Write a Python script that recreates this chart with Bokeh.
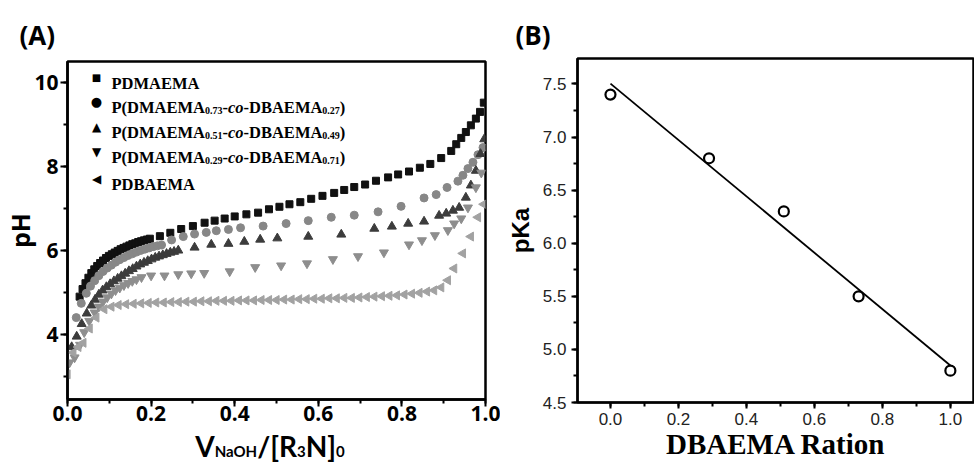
import numpy as np
from bokeh.plotting import figure
from bokeh.models import (Label, SingleIntervalTicker, PrintfTickFormatter, Range1d, Title, Div)
from bokeh.layouts import row, column
from bokeh.embed import file_html
from bokeh.resources import INLINE

# ---------------- data: panel A (titration curves) ----------------
pdmaema_x = [0.029, 0.036, 0.043, 0.050, 0.057, 0.064, 0.071, 0.078, 0.085, 0.092, 0.099, 0.106,
             0.113, 0.120, 0.127, 0.134, 0.141, 0.148, 0.155, 0.162, 0.169, 0.176, 0.183, 0.190, 0.197,
             0.221, 0.246, 0.272, 0.300, 0.328, 0.352, 0.376, 0.400, 0.428, 0.456, 0.482, 0.507,
             0.531, 0.557, 0.583, 0.610, 0.638, 0.662, 0.686, 0.712, 0.738, 0.767, 0.791, 0.817,
             0.843, 0.868, 0.894, 0.918, 0.930, 0.942, 0.953, 0.965, 0.977, 0.987, 0.996]
pdmaema_ph = [4.90, 5.08, 5.22, 5.35, 5.46, 5.55, 5.63, 5.70, 5.76, 5.82, 5.87, 5.91,
              5.95, 5.99, 6.03, 6.06, 6.09, 6.12, 6.15, 6.17, 6.20, 6.22, 6.24, 6.26, 6.28,
              6.34, 6.42, 6.51, 6.58, 6.66, 6.71, 6.76, 6.81, 6.86, 6.90, 6.98, 7.04,
              7.10, 7.15, 7.23, 7.30, 7.37, 7.44, 7.51, 7.57, 7.66, 7.74, 7.81, 7.88,
              7.97, 8.06, 8.20, 8.37, 8.53, 8.68, 8.82, 8.98, 9.14, 9.30, 9.52]

co27_x = [0.021, 0.033, 0.045, 0.055, 0.065, 0.075, 0.085, 0.095, 0.105, 0.115,
          0.125, 0.135, 0.145, 0.155, 0.165, 0.175, 0.185, 0.195, 0.205, 0.215,
          0.225, 0.249, 0.277, 0.304, 0.332, 0.356, 0.385, 0.414, 0.468, 0.523,
          0.576, 0.631, 0.686, 0.743, 0.798, 0.853, 0.882, 0.908, 0.934, 0.946,
          0.958, 0.970, 0.982, 0.994]
co27_ph = [4.40, 4.74, 4.98, 5.15, 5.28, 5.40, 5.50, 5.58, 5.65, 5.72,
           5.78, 5.83, 5.88, 5.92, 5.96, 6.00, 6.03, 6.06, 6.09, 6.11,
           6.13, 6.25, 6.33, 6.39, 6.43, 6.47, 6.50, 6.54, 6.58, 6.64,
           6.71, 6.79, 6.84, 6.92, 7.05, 7.25, 7.33, 7.50, 7.65, 7.79,
           7.95, 8.10, 8.28, 8.45]

co49_x = [0.010, 0.022, 0.034, 0.046, 0.057, 0.066, 0.075, 0.084, 0.093, 0.102,
          0.111, 0.120, 0.129, 0.138, 0.147, 0.156, 0.165, 0.174, 0.183, 0.192,
          0.201, 0.210, 0.219, 0.228, 0.237, 0.246, 0.255, 0.265, 0.304, 0.344,
          0.385, 0.423, 0.461, 0.502, 0.576, 0.655, 0.734, 0.776, 0.815, 0.853,
          0.889, 0.906, 0.922, 0.937, 0.953, 0.965, 0.977, 0.988, 0.997]
co49_ph = [3.70, 3.95, 4.25, 4.50, 4.69, 4.83, 4.95, 5.05, 5.13, 5.20,
           5.27, 5.33, 5.39, 5.45, 5.51, 5.56, 5.62, 5.67, 5.71, 5.75,
           5.79, 5.83, 5.86, 5.89, 5.92, 5.95, 5.97, 6.00, 6.07, 6.14,
           6.16, 6.21, 6.26, 6.29, 6.33, 6.38, 6.52, 6.57, 6.64, 6.69,
           6.83, 6.88, 6.95, 7.02, 7.26, 7.55, 7.90, 8.30, 8.65]

co71_x = [0.005, 0.017, 0.030, 0.040, 0.052, 0.065, 0.075, 0.085, 0.095, 0.105,
          0.115, 0.125, 0.135, 0.145, 0.155, 0.165, 0.177, 0.200, 0.232, 0.265,
          0.296, 0.327, 0.388, 0.449, 0.511, 0.573, 0.635, 0.695, 0.757, 0.817,
          0.848, 0.879, 0.910, 0.925, 0.942, 0.958, 0.977, 0.990]
co71_ph = [3.33, 3.45, 3.75, 4.05, 4.32, 4.52, 4.66, 4.78, 4.88, 4.97,
           5.05, 5.11, 5.17, 5.22, 5.27, 5.31, 5.36, 5.40, 5.40, 5.43,
           5.45, 5.46, 5.50, 5.60, 5.64, 5.69, 5.79, 5.86, 5.95, 6.14,
           6.24, 6.36, 6.48, 6.64, 6.76, 7.02, 7.50, 7.85]

pdbaema_x = [0.000, 0.014, 0.026, 0.038, 0.053, 0.069, 0.088, 0.105, 0.122,
             0.140, 0.158, 0.176, 0.194, 0.212, 0.230, 0.248, 0.266, 0.284, 0.302,
             0.320, 0.338, 0.356, 0.374, 0.392, 0.410, 0.428, 0.446, 0.464, 0.482,
             0.500, 0.518, 0.536, 0.554, 0.572, 0.590, 0.608, 0.626, 0.644, 0.662,
             0.680, 0.698, 0.716, 0.734, 0.752, 0.770, 0.788, 0.806, 0.824, 0.842, 0.860,
             0.877, 0.894, 0.910, 0.925, 0.946, 0.965, 0.982, 0.996]
pdbaema_ph = [3.05, 3.57, 3.70, 3.80, 4.14, 4.40, 4.60, 4.66, 4.70,
              4.72, 4.73, 4.74, 4.75, 4.76, 4.76, 4.77, 4.77, 4.78, 4.78,
              4.79, 4.79, 4.80, 4.80, 4.80, 4.81, 4.81, 4.81, 4.82, 4.82,
              4.82, 4.83, 4.83, 4.84, 4.84, 4.85, 4.85, 4.86, 4.86, 4.87,
              4.87, 4.88, 4.89, 4.90, 4.91, 4.92, 4.93, 4.95, 4.97, 4.99, 5.02,
              5.05, 5.12, 5.29, 5.57, 5.93, 6.33, 6.79, 7.10]

# ---------------- data: panel B (pKa vs DBAEMA ratio) ----------------
ratio = [0.0, 0.29, 0.51, 0.73, 1.0]
pka = [7.4, 6.8, 6.3, 5.5, 4.8]

# ---------------- text metrics helpers (legend rich text) ----------------
TIMES_B = {'P': .611, 'D': .722, 'M': .944, 'A': .722, 'E': .667, 'B': .667, '(': .333,
           ')': .333, '-': .333, '.': .25, 'c': .444, 'o': .5}


def tw(s, size, table):
    return sum(table.get(c, .5) for c in s) * size


def rich(p, x0, yb, pieces, font, table, size, sub_size, sub_drop):
    x = x0
    for txt, kind in pieces:
        if kind == "s":
            fs, dy, st = sub_size, -sub_drop, "bold"
        elif kind == "i":
            fs, dy, st = size, 0, "bold italic"
        else:
            fs, dy, st = size, 0, "bold"
        p.add_layout(Label(x=x, y=yb + dy, x_units="screen", y_units="screen", text=txt,
                           text_font=font, text_font_size=f"{fs}px", text_font_style=st,
                           text_color="black", text_baseline="alphabetic", text_align="left"))
        x += tw(txt, fs, table)


# ---------------- panel A ----------------
A_W = 500
A_L, A_B = 66, 399  # frame left / bottom (page px)
A_H = 429

pA = figure(width=A_W, height=A_H, x_range=Range1d(0, 1.0), y_range=Range1d(2.45, 10.5),
            output_backend="svg", toolbar_location=None,
            min_border_left=A_L, min_border_right=15, min_border_top=61,
            min_border_bottom=A_H - A_B)
pA.grid.visible = False
pA.outline_line_color = "black"
pA.outline_line_width = 2.5
pA.background_fill_color = "white"
pA.border_fill_color = "white"
pA.title = Title(text="(A)", align="left", offset=18 - A_L, standoff=17,
                 text_font="Open Sans", text_font_style="bold", text_font_size="26px",
                 text_color="black")

pA.xaxis.ticker = SingleIntervalTicker(interval=0.2, num_minor_ticks=2)
pA.xaxis.formatter = PrintfTickFormatter(format="%.1f")
pA.yaxis.ticker = SingleIntervalTicker(interval=2, num_minor_ticks=2)
for ax in (pA.xaxis[0], pA.yaxis[0]):
    ax.axis_line_width = 2.5
    ax.major_tick_line_width = 2
    ax.minor_tick_line_width = 2
    ax.major_tick_out = 7
    ax.major_tick_in = 0
    ax.minor_tick_out = 4
    ax.minor_tick_in = 0
    ax.major_label_text_font = "Open Sans"
    ax.major_label_text_font_style = "bold"
    ax.major_label_text_font_size = "21px"
    ax.major_label_text_color = "black"
pA.xaxis.major_label_standoff = -1
pA.yaxis.major_label_standoff = 2
pA.yaxis.axis_label = "pH"
pA.yaxis.axis_label_text_font = "Open Sans"
pA.yaxis.axis_label_text_font_style = "bold"
pA.yaxis.axis_label_text_font_size = "25px"
pA.yaxis.axis_label_text_color = "black"
pA.yaxis.axis_label_standoff = -6

pA.scatter(pdmaema_x, pdmaema_ph, marker="square", size=7, color="#111111")
pA.scatter(co27_x, co27_ph, marker="circle", size=8, color="#878787")
pA.scatter(co49_x, co49_ph, marker="triangle", size=9, color="#3c3c3c")
pA.scatter(co71_x, co71_ph, marker="inverted_triangle", size=9, color="#8e8e8e")
pA.scatter(pdbaema_x, pdbaema_ph, marker="triangle", angle=np.pi / 2, size=9, color="#a2a2a2")

# legend (marker glyph + composed rich text)
legend_rows = [
    ("■", 10, [("PDMAEMA", "n")]),
    ("●", 13, [("P(DMAEMA", "n"), ("0.73", "s"), ("-", "n"), ("co", "i"), ("-DBAEMA", "n"),
              ("0.27", "s"), (")", "n")]),
    ("▲", 12, [("P(DMAEMA", "n"), ("0.51", "s"), ("-", "n"), ("co", "i"), ("-DBAEMA", "n"),
              ("0.49", "s"), (")", "n")]),
    ("▼", 12, [("P(DMAEMA", "n"), ("0.29", "s"), ("-", "n"), ("co", "i"), ("-DBAEMA", "n"),
              ("0.71", "s"), (")", "n")]),
    ("◀", 12, [("PDBAEMA", "n")]),
]
row_centers = [77, 101, 126, 151, 178]
for (mk, msz, pieces), yc in zip(legend_rows, row_centers):
    pA.add_layout(Label(x=95 - A_L, y=A_B - yc, x_units="screen", y_units="screen", text=mk,
                        text_font="DejaVu Sans", text_font_size=f"{msz}px", text_color="black",
                        text_align="center", text_baseline="middle"))
    rich(pA, 110 - A_L, A_B - (yc + 5.5), pieces, "Liberation Serif", TIMES_B, 16.5, 10, 3)

# x-axis title of panel A with subscripts:  V_NaOH/[R_3N]_0
XL_H = 463 - A_H
sub = "font-size:15px;line-height:15px"
xl_html = (f'<span style="font-family:Lato;font-weight:bold;font-size:28px;'
           f'line-height:{XL_H}px;color:black;">'
           f'V<span style="{sub}">NaOH</span>/[R<span style="{sub}">3</span>N]'
           f'<span style="{sub}">0</span></span>')
xlabel_A = Div(text=xl_html, width=A_W, height=XL_H, margin=0,
               styles={"text-align": "center", "padding-left": "40px",
                       "line-height": f"{XL_H}px", "overflow": "visible",
                       "white-space": "nowrap", "box-sizing": "border-box"})

# ---------------- panel B ----------------
B_X0 = A_W
B_L, B_B = 577, 402
B_W = 974 - B_X0
pB = figure(width=B_W, height=463, x_range=Range1d(-0.097, 1.071), y_range=Range1d(4.5, 7.74),
            output_backend="svg", toolbar_location=None,
            min_border_left=B_L - B_X0, min_border_right=0, min_border_top=58,
            min_border_bottom=463 - B_B)
pB.grid.visible = False
pB.outline_line_color = "black"
pB.outline_line_width = 2.5
pB.background_fill_color = "white"
pB.border_fill_color = "white"
pB.title = Title(text="(B)", align="left", offset=515 - B_L, standoff=12,
                 text_font="Open Sans", text_font_style="bold", text_font_size="26px",
                 text_color="black")

pB.xaxis.ticker = SingleIntervalTicker(interval=0.2, num_minor_ticks=2)
pB.yaxis.ticker = SingleIntervalTicker(interval=0.5, num_minor_ticks=2)
pB.xaxis.formatter = PrintfTickFormatter(format="%.1f")
pB.yaxis.formatter = PrintfTickFormatter(format="%.1f")
for ax in (pB.xaxis[0], pB.yaxis[0]):
    ax.axis_line_width = 2.2
    ax.major_tick_line_width = 2
    ax.minor_tick_line_width = 2
    ax.major_tick_out = 6
    ax.major_tick_in = 0
    ax.minor_tick_out = 4
    ax.minor_tick_in = 0
    ax.major_label_text_font = "Liberation Sans"
    ax.major_label_text_font_style = "normal"
    ax.major_label_text_font_size = "17px"
    ax.major_label_text_color = "#222222"
pB.xaxis.major_label_standoff = 4
pB.yaxis.major_label_standoff = 5
pB.yaxis.axis_label = "pKa"
pB.yaxis.axis_label_text_font = "Liberation Sans"
pB.yaxis.axis_label_text_font_style = "bold"
pB.yaxis.axis_label_text_font_size = "24px"
pB.yaxis.axis_label_text_color = "black"
pB.yaxis.axis_label_standoff = 6
pB.xaxis.axis_label = "DBAEMA Ration"
pB.xaxis.axis_label_text_font = "Liberation Serif"
pB.xaxis.axis_label_text_font_style = "bold"
pB.xaxis.axis_label_text_font_size = "29px"
pB.xaxis.axis_label_text_color = "black"
pB.xaxis.axis_label_standoff = 0

slope, intercept = np.polyfit(ratio, pka, 1)
fit_x = np.array([min(ratio), max(ratio)])
pB.line(fit_x, slope * fit_x + intercept, line_color="black", line_width=1.8)
pB.scatter(ratio, pka, marker="circle", size=10, fill_color=None, line_color="black",
           line_width=2.2)

layout = row(column(pA, xlabel_A), pB)
open("out.html", "w").write(file_html(layout, INLINE))
